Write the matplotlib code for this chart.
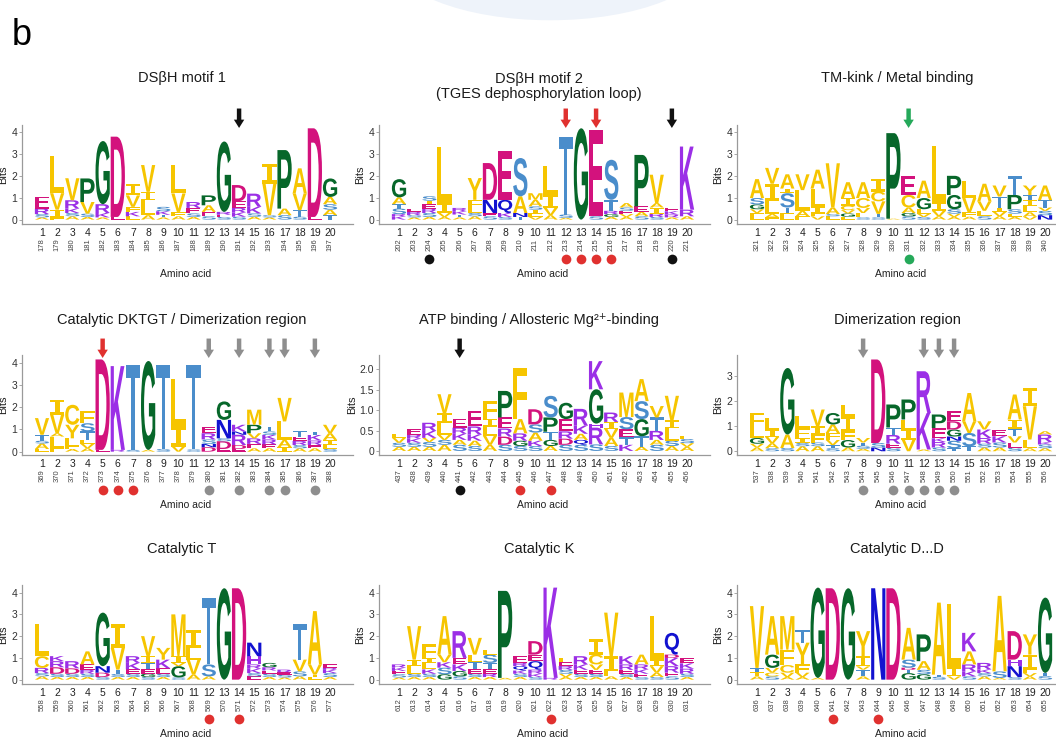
import matplotlib
matplotlib.use('Agg')
import matplotlib.pyplot as plt
from matplotlib.textpath import TextPath
from matplotlib.font_manager import FontProperties
from matplotlib.patches import PathPatch, Ellipse
from matplotlib.transforms import Affine2D, ScaledTranslation

plt.rcParams['font.family'] = 'Liberation Sans'

# ---- data: each column is a stack of (residue, bits), bottom to top ----
motif1_title = 'DSβH motif 1'
motif1_resid = list(range(178, 198))
motif1_cols = [
    [('A', .1), ('S', .15), ('R', .25), ('E', .55)],
    [('F', .1), ('I', .35), ('V', .75), ('L', 1.7)],
    [('A', .15), ('S', .15), ('K', .2), ('R', .38), ('V', 1.0)],
    [('A', .12), ('S', .15), ('V', .53), ('P', 1.07)],
    [('A', .1), ('K', .2), ('R', .4), ('G', 2.87)],
    [('E', .12), ('D', 3.65)],
    [('L', .15), ('K', .2), ('F', .23), ('V', .52), ('I', .54)],
    [('A', .2), ('L', .68), ('I', .38), ('V', 1.22)],
    [('A', .1), ('T', .12), ('K', .16), ('S', .2)],
    [('A', .15), ('F', .2), ('V', .84), ('L', 1.29)],
    [('A', .12), ('S', .16), ('E', .25), ('R', .27)],
    [('S', .15), ('E', .2), ('A', .3), ('P', .45)],
    [('S', .12), ('E', .1), ('R', .13), ('G', 3.2)],
    [('S', .13), ('K', .2), ('R', .2), ('E', .31), ('D', .73)],
    [('A', .13), ('S', .15), ('K', .3), ('R', .6)],
    [('A', .1), ('S', .1), ('V', 1.44), ('I', .91)],
    [('S', .2), ('A', .3), ('P', 2.66)],
    [('S', .13), ('T', .3), ('V', .76), ('A', 1.14)],
    [('E', .12), ('D', 4.03)],
    [('T', .2), ('A', .25), ('S', .25), ('A', .33), ('G', .84)],
]
motif1_arrows = {'black': [14]}
motif1_dots = {}

motif2_title = 'DSβH motif 2\n(TGES dephosphorylation loop)'
motif2_resid = list(range(202, 222))
motif2_cols = [
    [('K', .15), ('R', .1), ('S', .25), ('T', .2), ('A', .31), ('G', .83)],
    [('A', .1), ('S', .1), ('R', .15), ('E', .15)],
    [('A', .12), ('S', .18), ('R', .2), ('E', .2), ('I', .16), ('S', .2)],
    [('A', .12), ('V', .18), ('I', .45), ('L', 2.57)],
    [('A', .1), ('T', .13), ('K', .15), ('R', .15)],
    [('A', .15), ('S', .15), ('L', .23), ('F', .37), ('Y', .99)],
    [('S', .15), ('E', .15), ('N', .6), ('D', 1.67)],
    [('S', .12), ('K', .18), ('Q', .6), ('E', 2.2)],
    [('T', .12), ('N', .18), ('A', .76), ('S', 1.74)],
    [('V', .12), ('L', .15), ('I', .18), ('S', .15), ('A', .3), ('M', .3)],
    [('A', .2), ('V', .33), ('I', .6), ('L', 1.29)],
    [('A', .08), ('S', .15), ('T', 3.54)],
    [('G', 4.15)],
    [('S', .15), ('E', 3.93)],
    [('A', .12), ('G', .13), ('R', .15), ('T', .5), ('S', 1.82)],
    [('A', .12), ('V', .13), ('E', .15), ('S', .15), ('A', .2)],
    [('S', .15), ('A', .2), ('E', .25), ('P', 2.34)],
    [('S', .12), ('R', .15), ('I', .28), ('A', .2), ('V', 1.29)],
    [('A', .1), ('R', .13), ('K', .15), ('E', .15)],
    [('A', .15), ('R', .3), ('K', 2.87)],
]
motif2_arrows = {'red': [12, 14], 'black': [19]}
motif2_dots = {'black': [3, 19], 'red': [12, 13, 14, 15]}

tm_title = 'TM-kink / Metal binding'
tm_resid = list(range(321, 341))
tm_cols = [
    [('L', .15), ('F', .15), ('V', .17), ('G', .22), ('S', .29), ('A', .86)],
    [('F', .1), ('A', .16), ('L', .57), ('I', .8), ('V', .72)],
    [('L', .15), ('F', .15), ('T', .25), ('S', .65), ('I', .21), ('A', .65)],
    [('F', .15), ('A', .25), ('L', .94), ('V', .72)],
    [('V', .15), ('F', .15), ('I', .25), ('L', .86), ('A', .86)],
    [('L', .15), ('S', .1), ('A', .3), ('V', 2.01)],
    [('L', .13), ('G', .15), ('V', .15), ('C', .2), ('I', .35), ('A', .72)],
    [('S', .1), ('L', .2), ('V', .23), ('C', .45), ('A', .72)],
    [('S', .1), ('T', .16), ('V', .57), ('C', .44), ('I', .57)],
    [('A', .04), ('P', 3.89)],
    [('S', .15), ('G', .15), ('A', .25), ('C', .57), ('E', .87)],
    [('S', .12), ('V', .15), ('L', .2), ('G', .51), ('A', .79)],
    [('A', .15), ('V', .25), ('I', .36), ('L', 2.59)],
    [('A', .12), ('V', .15), ('S', .2), ('G', .65), ('P', .87)],
    [('A', .13), ('F', .2), ('V', .65), ('L', .79)],
    [('S', .15), ('L', .25), ('V', .43), ('A', .8)],
    [('A', .15), ('V', .2), ('I', .2), ('T', .5), ('V', .5)],
    [('A', .12), ('L', .15), ('S', .2), ('P', .65), ('T', .87)],
    [('V', .13), ('A', .2), ('L', .3), ('I', .27), ('T', .22), ('Y', .43)],
    [('N', .2), ('S', .2), ('V', .15), ('T', .33), ('A', .67)],
]
tm_arrows = {'green': [11]}
tm_dots = {'green': [11]}

dktgt_title = 'Catalytic DKTGT / Dimerization region'
dktgt_resid = list(range(369, 389))
dktgt_cols = [
    [('L', .12), ('A', .25), ('S', .12), ('T', .27), ('V', .75)],
    [('F', .15), ('L', .53), ('A', .15), ('V', .83), ('I', .68)],
    [('A', .12), ('F', .11), ('L', .37), ('Y', .61), ('C', .9)],
    [('A', .15), ('V', .2), ('L', .18), ('T', .38), ('S', .37), ('F', .53)],
    [('E', .08), ('D', 4.07)],
    [('R', .08), ('K', 3.77)],
    [('S', .08), ('T', 3.84)],
    [('A', .08), ('G', 4.0)],
    [('S', .12), ('T', 3.8)],
    [('V', .23), ('I', .9), ('L', 2.12)],
    [('S', .1), ('T', 3.82)],
    [('D', .2), ('N', .15), ('S', .2), ('R', .28), ('E', .3)],
    [('E', .12), ('D', .35), ('S', .13), ('N', .83), ('G', .83)],
    [('E', .12), ('D', .18), ('R', .46), ('N', .15), ('K', .3)],
    [('A', .15), ('E', .2), ('R', .25), ('V', .23), ('P', .38), ('M', .68)],
    [('A', .15), ('E', .18), ('R', .22), ('K', .2), ('S', .16), ('T', .22)],
    [('I', .2), ('A', .33), ('L', .83), ('V', 1.06)],
    [('A', .15), ('S', .15), ('R', .18), ('E', .2), ('T', .23)],
    [('A', .15), ('E', .15), ('R', .2), ('K', .25), ('T', .15)],
    [('S', .12), ('L', .18), ('I', .23), ('A', .3), ('V', .38)],
]
dktgt_arrows = {'red': [5], 'grey': [12, 14, 16, 17, 19]}
dktgt_dots = {'red': [5, 6, 7], 'grey': [12, 14, 16, 17, 19]}

atp_title = 'ATP binding / Allosteric Mg²⁺-binding'
atp_resid = list(range(437, 457))
atp_cols = [
    [('A', .1), ('S', .1), ('V', .12), ('L', .09)],
    [('A', .1), ('S', .1), ('K', .1), ('R', .1), ('E', .13)],
    [('A', .1), ('S', .12), ('V', .1), ('K', .17), ('R', .2)],
    [('A', .15), ('S', .12), ('V', .12), ('L', .29), ('I', .24), ('V', .47)],
    [('S', .15), ('A', .12), ('K', .15), ('R', .15), ('E', .21)],
    [('S', .12), ('A', .13), ('K', .15), ('R', .2), ('E', .38)],
    [('A', .15), ('V', .22), ('L', .22), ('I', .2), ('F', .43)],
    [('S', .15), ('D', .2), ('R', .2), ('E', .27), ('P', .65)],
    [('S', .12), ('G', .13), ('R', .18), ('A', .35), ('F', 1.26)],
    [('S', .12), ('K', .13), ('A', .2), ('S', .2), ('D', .37)],
    [('A', .12), ('G', .15), ('T', .2), ('P', .35), ('S', .53)],
    [('S', .15), ('D', .15), ('R', .18), ('E', .3), ('G', .4)],
    [('S', .15), ('Q', .12), ('A', .15), ('K', .2), ('R', .41)],
    [('S', .16), ('R', .41), ('H', .1), ('G', .84), ('K', .69)],
    [('S', .12), ('A', .2), ('V', .22), ('I', .17), ('R', .23)],
    [('K', .15), ('T', .18), ('E', .2), ('S', .3), ('M', .6)],
    [('A', .1), ('T', .26), ('G', .42), ('S', .44), ('A', .54)],
    [('S', .15), ('A', .12), ('R', .22), ('T', .33), ('V', .28)],
    [('A', .12), ('S', .13), ('L', .3), ('I', .2), ('V', .6)],
    [('A', .1), ('V', .09), ('S', .1), ('L', .08)],
]
atp_arrows = {'black': [5]}
atp_dots = {'black': [5], 'red': [9, 11]}

dimer_title = 'Dimerization region'
dimer_resid = list(range(537, 557))
dimer_cols = [
    [('A', .15), ('V', .15), ('G', .23), ('L', .4), ('F', .6)],
    [('S', .12), ('A', .2), ('V', .25), ('I', .3), ('L', .46)],
    [('S', .13), ('A', .54), ('G', 2.66)],
    [('A', .2), ('S', .13), ('I', .2), ('F', .4), ('L', .47)],
    [('A', .2), ('S', .15), ('F', .32), ('I', .33), ('V', .67)],
    [('S', .12), ('T', .13), ('V', .2), ('F', .28), ('A', .34), ('G', .46)],
    [('A', .15), ('G', .3), ('F', .35), ('I', .6), ('L', .47)],
    [('A', .1), ('S', .12), ('T', .13), ('V', .18)],
    [('N', .15), ('S', .18), ('D', 3.34)],
    [('S', .15), ('E', .15), ('R', .35), ('T', .3), ('P', .92)],
    [('V', .47), ('I', .4), ('L', .4), ('P', .8)],
    [('A', .07), ('K', 1.46), ('R', 1.67)],
    [('S', .15), ('R', .22), ('K', .15), ('E', .41), ('P', .54)],
    [('T', .12), ('S', .3), ('N', .17), ('G', .28), ('D', .33), ('E', .4)],
    [('T', .2), ('S', .53), ('V', .47), ('A', 1.13)],
    [('A', .15), ('S', .15), ('R', .23), ('K', .34), ('V', .33)],
    [('A', .15), ('S', .2), ('K', .25), ('E', .27)],
    [('S', .15), ('E', .2), ('V', .25), ('T', .3), ('I', .37), ('A', 1.0)],
    [('A', .12), ('L', .35), ('V', 1.33), ('I', .73)],
    [('A', .12), ('S', .15), ('K', .1), ('R', .3), ('A', .13)],
]
dimer_arrows = {'grey': [8, 12, 13, 14]}
dimer_dots = {'grey': [8, 10, 11, 12, 13, 14]}

catT_title = 'Catalytic T'
catT_resid = list(range(558, 578))
catT_cols = [
    [('A', .15), ('S', .15), ('R', .24), ('C', .54), ('L', 1.46)],
    [('A', .12), ('S', .15), ('D', .3), ('R', .28), ('K', .23)],
    [('A', .12), ('S', .15), ('D', .25), ('R', .33)],
    [('A', .12), ('S', .15), ('R', .18), ('E', .25), ('A', .6)],
    [('S', .12), ('D', .2), ('N', .3), ('G', 2.46)],
    [('A', .12), ('S', .14), ('T', .2), ('V', 1.0), ('I', 1.08)],
    [('A', .12), ('S', .15), ('E', .2), ('K', .3), ('R', .31)],
    [('S', .12), ('G', .15), ('E', .2), ('T', .3), ('I', .31), ('V', .92)],
    [('A', .12), ('S', .15), ('E', .25), ('K', .4), ('Y', .54)],
    [('S', .1), ('G', .52), ('V', .15), ('I', .31), ('M', 1.92)],
    [('A', .23), ('V', .69), ('L', .54), ('I', .84)],
    [('A', .15), ('S', .55), ('T', 3.07)],
    [('G', 4.2)],
    [('D', 4.2)],
    [('E', .15), ('S', .15), ('K', .2), ('R', .2), ('H', .38), ('N', .62)],
    [('A', .12), ('S', .15), ('E', .15), ('R', .15), ('G', .2)],
    [('A', .1), ('S', .12), ('E', .12), ('R', .12)],
    [('A', .15), ('S', .23), ('V', .54), ('T', 1.62)],
    [('L', .12), ('I', .11), ('V', .47), ('A', 2.45)],
    [('A', .12), ('S', .18), ('K', .15), ('R', .1), ('E', .15)],
]
catT_arrows = {}
catT_dots = {'red': [12, 14]}

catK_title = 'Catalytic K'
catK_resid = list(range(612, 632))
catK_cols = [
    [('A', .1), ('S', .15), ('E', .15), ('K', .15), ('R', .15)],
    [('A', .12), ('S', .15), ('L', .35), ('I', .3), ('V', 1.54)],
    [('A', .12), ('S', .15), ('K', .2), ('L', .3), ('I', .23), ('F', .62)],
    [('G', .25), ('S', .3), ('K', .25), ('V', .35), ('A', 1.77)],
    [('S', .15), ('G', .25), ('K', .3), ('E', .3), ('R', 1.23)],
    [('A', .12), ('S', .15), ('E', .23), ('T', .3), ('L', .35), ('V', .77)],
    [('A', .12), ('R', .15), ('E', .2), ('T', .3), ('S', .38), ('L', .23)],
    [('A', .08), ('P', 4.0)],
    [('A', .12), ('S', .15), ('K', .15), ('Q', .2), ('R', .15), ('E', .31)],
    [('S', .12), ('K', .15), ('R', .19), ('Q', .39), ('E', .3), ('D', .62)],
    [('R', .08), ('K', 4.15)],
    [('A', .12), ('V', .15), ('S', .18), ('R', .18), ('E', .17), ('L', .2)],
    [('A', .12), ('S', .15), ('E', .18), ('K', .25), ('R', .38)],
    [('A', .12), ('S', .15), ('E', .18), ('V', .25), ('C', .45), ('I', .7)],
    [('A', .15), ('L', .23), ('I', .7), ('V', 2.0)],
    [('A', .12), ('S', .15), ('E', .18), ('R', .25), ('K', .38)],
    [('S', .12), ('E', .15), ('K', .2), ('R', .23), ('A', .45)],
    [('S', .12), ('A', .2), ('V', .3), ('I', .3), ('L', 2.0)],
    [('S', .15), ('E', .17), ('R', .3), ('K', .38), ('D', .15), ('Q', 1.0)],
    [('A', .12), ('S', .15), ('R', .23), ('K', .25), ('E', .25)],
]
catK_arrows = {}
catK_dots = {'red': [11]}

catDD_title = 'Catalytic D...D'
catDD_resid = list(range(636, 656))
catDD_cols = [
    [('A', .15), ('I', .2), ('T', .19), ('V', 2.84)],
    [('S', .15), ('C', .17), ('V', .22), ('G', .61), ('A', 1.77)],
    [('A', .12), ('V', .2), ('C', .35), ('F', .71), ('M', 1.54)],
    [('A', .12), ('V', .2), ('F', .38), ('Y', 1.0), ('T', .6)],
    [('A', .08), ('G', 4.15)],
    [('D', 4.2)],
    [('G', 4.2)],
    [('A', .15), ('T', .31), ('V', .15), ('I', .46), ('Y', 1.16)],
    [('N', 4.2)],
    [('D', 4.2)],
    [('G', .3), ('T', .15), ('D', .1), ('S', .37), ('A', 1.46)],
    [('G', .25), ('S', .2), ('A', .4), ('P', 1.23)],
    [('S', .13), ('T', .1), ('A', 3.31)],
    [('V', .15), ('I', .39), ('L', 2.92)],
    [('S', .15), ('K', .23), ('R', .32), ('A', .6), ('K', .85)],
    [('A', .15), ('S', .15), ('K', .17), ('R', .3)],
    [('A', .08), ('S', .3), ('A', 3.47)],
    [('S', .12), ('N', .5), ('H', .3), ('D', 1.31)],
    [('A', .15), ('V', .15), ('L', .16), ('I', .69), ('Y', .93)],
    [('S', .16), ('T', .15), ('G', 3.46)],
]
catDD_arrows = {}
catDD_dots = {'red': [6, 9]}

# ---- styling ----
aa_colors = {}
for aa in 'AVLIMFCWY':
    aa_colors[aa] = '#F6C500'
for aa in 'GP':
    aa_colors[aa] = '#07672A'
for aa in 'DE':
    aa_colors[aa] = '#D3127D'
for aa in 'ST':
    aa_colors[aa] = '#4A8DCB'
for aa in 'NQ':
    aa_colors[aa] = '#1212D0'
for aa in 'KRH':
    aa_colors[aa] = '#9B2FE6'
mark_colors = {'red': '#E0312F', 'black': '#111111', 'grey': '#8E8E8E', 'green': '#25A95A'}

logo_font = FontProperties(family='Liberation Sans', weight='bold')
serif_i_font = FontProperties(family='DejaVu Sans Mono', weight='bold')
glyphs = {}


def glyph(aa):
    if aa not in glyphs:
        prop = serif_i_font if aa == 'I' else logo_font
        glyphs[aa] = TextPath((0, 0), aa, size=1, prop=prop)
    return glyphs[aa]


def draw_letter(ax, aa, x, y0, h, w=0.94):
    tp = glyph(aa)
    bb = tp.get_extents()
    t = Affine2D().translate(-bb.x0, -bb.y0).scale(w / bb.width, h / bb.height).translate(x - w / 2, y0)
    ax.add_patch(PathPatch(t.transform_path(tp), facecolor=aa_colors[aa], edgecolor='none', lw=0))


W, H = 1056, 737
fig = plt.figure(figsize=(W / 100, H / 100), dpi=100)

# faint arc at the top edge and panel letter
fig.add_artist(Ellipse((0.521, 1.06), 0.303, 0.175, transform=fig.transFigure,
                       facecolor='#EEF3FA', edgecolor='none', zorder=0))
fig.text(12 / W, 1 - 45 / H, 'b', fontsize=26, ha='left', va='baseline')

step = 15.16
col_pos1 = [42, 399, 757]
rows = [(125, 224, 78), (355, 455, 320), (585, 684, 549)]

panels = [
    (0, 0, motif1_title, motif1_cols, motif1_resid, motif1_arrows, motif1_dots, (-0.2, 4.3), [0, 1, 2, 3, 4]),
    (0, 1, motif2_title, motif2_cols, motif2_resid, motif2_arrows, motif2_dots, (-0.2, 4.3), [0, 1, 2, 3, 4]),
    (0, 2, tm_title, tm_cols, tm_resid, tm_arrows, tm_dots, (-0.2, 4.3), [0, 1, 2, 3, 4]),
    (1, 0, dktgt_title, dktgt_cols, dktgt_resid, dktgt_arrows, dktgt_dots, (-0.15, 4.35), [0, 1, 2, 3, 4]),
    (1, 1, atp_title, atp_cols, atp_resid, atp_arrows, atp_dots, (-0.1, 2.35), [0, 0.5, 1.0, 1.5, 2.0]),
    (1, 2, dimer_title, dimer_cols, dimer_resid, dimer_arrows, dimer_dots, (-0.15, 3.85), [0, 1, 2, 3]),
    (2, 0, catT_title, catT_cols, catT_resid, catT_arrows, catT_dots, (-0.2, 4.35), [0, 1, 2, 3, 4]),
    (2, 1, catK_title, catK_cols, catK_resid, catK_arrows, catK_dots, (-0.2, 4.35), [0, 1, 2, 3, 4]),
    (2, 2, catDD_title, catDD_cols, catDD_resid, catDD_arrows, catDD_dots, (-0.2, 4.35), [0, 1, 2, 3, 4]),
]

for r, c, title, cols, resid, arrows, dots, ylim, yticks in panels:
    top, bottom, title_y = rows[r]
    p1 = col_pos1[c]
    left = p1 - 1.32 * step
    right = p1 + 20.5 * step
    ax = fig.add_axes([left / W, 1 - bottom / H, (right - left) / W, (bottom - top) / H])
    ax.set_xlim(-0.32, 21.5)
    ax.set_ylim(*ylim)

    for i, col in enumerate(cols):
        y = 0
        for aa, h in col:
            draw_letter(ax, aa, i + 1, y, h)
            y += h

    for side in ['top', 'right']:
        ax.spines[side].set_visible(False)
    for side in ['left', 'bottom']:
        ax.spines[side].set_color('#9A9A9A')
        ax.spines[side].set_linewidth(0.9)
    ax.set_xticks([])
    ax.set_yticks(yticks)
    if yticks[1] == 0.5:
        ax.set_yticklabels(['0', '0.5', '1.0', '1.5', '2.0'])
    ax.tick_params(axis='y', labelsize=7.5, length=2, width=0.6, color='#9A9A9A',
                   labelcolor='#333333', pad=1.5)
    ax.set_ylabel('Bits', fontsize=8, labelpad=2, color='#222222')

    def below(off):
        return ax.get_xaxis_transform() + ScaledTranslation(0, -off / 100, fig.dpi_scale_trans)

    for i, num in enumerate(resid):
        ax.text(i + 1, 0, str(i + 1), transform=below(9), ha='center', va='center',
                fontsize=7.5, color='#222222', clip_on=False)
        ax.text(i + 1, 0, str(num), transform=below(21), ha='center', va='center',
                rotation=90, fontsize=5.5, color='#444444', clip_on=False)
    ax.text(10.5, 0, 'Amino acid', transform=below(50), ha='center', va='center',
            fontsize=7.5, color='#222222', clip_on=False)

    for kind, pos_list in dots.items():
        for pos in pos_list:
            ax.plot(pos, 0, 'o', markersize=7, color=mark_colors[kind], markeredgewidth=0,
                    transform=below(35), clip_on=False)

    for kind, pos_list in arrows.items():
        for pos in pos_list:
            ax.annotate('', xy=(pos, 0.97), xycoords=('data', 'axes fraction'),
                        xytext=(0, 14), textcoords='offset points',
                        arrowprops=dict(facecolor=mark_colors[kind], edgecolor='none',
                                        width=3.2, headwidth=7.5, headlength=6, shrink=0))

    title_x = p1 + 9.5 * step - 4
    fig.text(title_x / W, 1 - (title_y + (8.5 if '\n' in title else 0)) / H, title,
             ha='center', va='center', fontsize=10.5, linespacing=1.15, color='#1A1A1A',
             family=['Liberation Sans', 'DejaVu Sans'])

fig.savefig('out.png', dpi=100)
